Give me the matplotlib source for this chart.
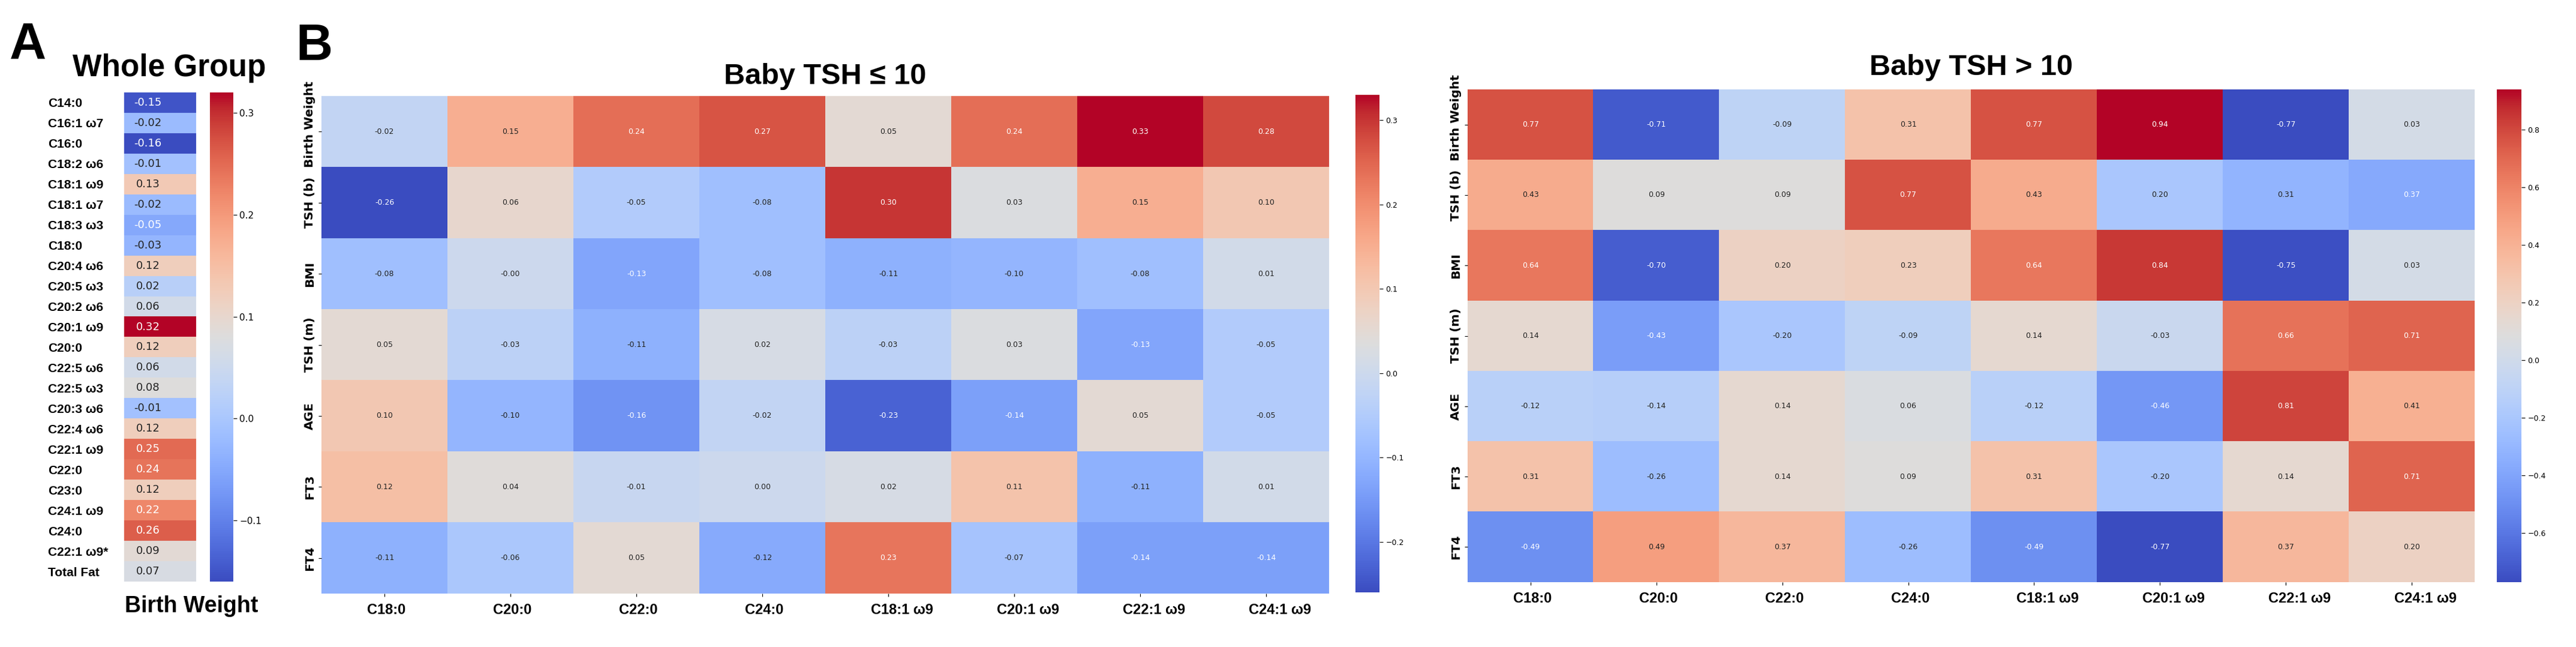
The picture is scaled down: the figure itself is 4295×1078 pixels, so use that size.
import numpy as np
import matplotlib
matplotlib.use("Agg")
import matplotlib.pyplot as plt
from matplotlib import colors
from matplotlib.ticker import MultipleLocator
from matplotlib.transforms import ScaledTranslation

# ---- data ----
whole_rows = ["C14:0", "C16:1 ω7", "C16:0", "C18:2 ω6", "C18:1 ω9", "C18:1 ω7",
              "C18:3 ω3", "C18:0", "C20:4 ω6", "C20:5 ω3", "C20:2 ω6", "C20:1 ω9",
              "C20:0", "C22:5 ω6", "C22:5 ω3", "C20:3 ω6", "C22:4 ω6", "C22:1 ω9",
              "C22:0", "C23:0", "C24:1 ω9", "C24:0", "C22:1 ω9*", "Total Fat"]
whole_bw = [-0.15, -0.02, -0.16, -0.01, 0.13, -0.02, -0.05, -0.03, 0.12, 0.02,
            0.06, 0.32, 0.12, 0.06, 0.08, -0.01, 0.12, 0.25, 0.24, 0.12, 0.22,
            0.26, 0.09, 0.07]

b_rows = ["Birth Weight", "TSH (b)", "BMI", "TSH (m)", "AGE", "FT3", "FT4"]
b_cols = ["C18:0", "C20:0", "C22:0", "C24:0",
          "C18:1 ω9", "C20:1 ω9", "C22:1 ω9", "C24:1 ω9"]

low_vals = [
    [-0.02, 0.15, 0.24, 0.27, 0.05, 0.24, 0.33, 0.28],
    [-0.26, 0.06, -0.05, -0.08, 0.30, 0.03, 0.15, 0.10],
    [-0.08, -0.0, -0.13, -0.08, -0.11, -0.10, -0.08, 0.01],
    [0.05, -0.03, -0.11, 0.02, -0.03, 0.03, -0.13, -0.05],
    [0.10, -0.10, -0.16, -0.02, -0.23, -0.14, 0.05, -0.05],
    [0.12, 0.04, -0.01, 0.00, 0.02, 0.11, -0.11, 0.01],
    [-0.11, -0.06, 0.05, -0.12, 0.23, -0.07, -0.14, -0.14],
]

high_vals = [
    [0.77, -0.71, -0.09, 0.31, 0.77, 0.94, -0.77, 0.03],
    [0.43, 0.09, 0.09, 0.77, 0.43, -0.20, -0.31, -0.37],
    [0.64, -0.70, 0.20, 0.23, 0.64, 0.84, -0.75, 0.03],
    [0.14, -0.43, -0.20, -0.09, 0.14, -0.03, 0.66, 0.71],
    [-0.12, -0.14, 0.14, 0.06, -0.12, -0.46, 0.81, 0.41],
    [0.31, -0.26, 0.14, 0.09, 0.31, -0.20, 0.14, 0.71],
    [-0.49, 0.49, 0.37, -0.26, -0.49, -0.77, 0.37, 0.20],
]
# the printed numbers in the TSH (b) row lost their minus sign in the figure
high_tsh_b_printed = [0.43, 0.09, 0.09, 0.77, 0.43, 0.20, 0.31, 0.37]

# ---- figure ----
W, H = 4295, 1078
fig = plt.figure(figsize=(W / 100, H / 100), dpi=100)


def box(x0, y0, x1, y1):
    return [x0 / W, 1 - y1 / H, (x1 - x0) / W, (y1 - y0) / H]


def ftext(x, y, s, **kw):
    fig.text(x / W, 1 - y / H, s, **kw)


def text_color(rgba):
    lin = [c / 12.92 if c <= 0.03928 else ((c + 0.055) / 1.055) ** 2.4 for c in rgba[:3]]
    lum = 0.2126 * lin[0] + 0.7152 * lin[1] + 0.0722 * lin[2]
    return "#222222" if lum > 0.408 else "white"


def heat(ax, cax, vals, labels, step, fsize, cb_fsize, xoff=0.0):
    vals = np.array(vals, dtype=float)
    vmin, vmax = vals.min(), vals.max()
    im = ax.imshow(vals, cmap="coolwarm", vmin=vmin, vmax=vmax,
                   aspect="auto", interpolation="nearest")
    cmap = plt.get_cmap("coolwarm")
    norm = colors.Normalize(vmin, vmax)
    for i in range(vals.shape[0]):
        for j in range(vals.shape[1]):
            ax.text(j + xoff, i, labels[i][j], ha="center", va="center",
                    fontsize=fsize, color=text_color(cmap(norm(vals[i, j]))))
    for s in ax.spines.values():
        s.set_visible(False)
    cb = fig.colorbar(im, cax=cax)
    cb.outline.set_visible(False)
    cb.locator = MultipleLocator(step)
    cb.update_ticks()
    cb.ax.tick_params(labelsize=cb_fsize, length=4, width=0.8)
    return cb


# panel A: whole group
axA = fig.add_axes(box(207, 154, 327, 969))
caxA = fig.add_axes(box(350, 154, 389, 969))
labA = [[f"{v:.2f}"] for v in whole_bw]
heat(axA, caxA, [[v] for v in whole_bw], labA, 0.1, 13, 11, xoff=-0.17)
axA.set_xticks([])
axA.set_yticks(range(len(whole_rows)))
axA.set_yticklabels(whole_rows, ha="left", fontsize=15, fontweight="bold",
                    family="Liberation Sans")
axA.tick_params(axis="y", length=0, pad=(207 - 80) * 72 / 100)

ftext(16, 98, "A", fontsize=61, fontweight="bold", family="Liberation Sans")
ftext(282, 127, "Whole Group", ha="center", fontsize=37, fontweight="bold",
      family="Liberation Sans")
ftext(319, 1020, "Birth Weight", ha="center", fontsize=27, fontweight="bold",
      family="Liberation Sans")

# panel B: split by baby TSH
ftext(493, 100, "B", fontsize=61, fontweight="bold", family="Liberation Sans")

panels = [
    (box(536, 160, 2216, 989), box(2260, 158, 2300, 987), low_vals, None, 0.1,
     "Baby TSH ≤ 10", 140),
    (box(2447, 149, 4126, 970), box(4163, 149, 4204, 970), high_vals,
     high_tsh_b_printed, 0.2, "Baby TSH > 10", 125),
]

for rect, crect, vals, printed_row, step, title, title_y in panels:
    ax = fig.add_axes(rect)
    cax = fig.add_axes(crect)
    labels = [[f"{v:.2f}" for v in row] for row in vals]
    if printed_row is not None:
        labels[1] = [f"{v:.2f}" for v in printed_row]
    heat(ax, cax, vals, labels, step, 9, 9)
    ax.set_yticks(range(len(b_rows)))
    ax.set_yticklabels(b_rows, rotation=90, va="center", fontsize=14.5,
                       fontweight="bold", family="DejaVu Sans")
    # first row label sits a little higher than its tick in the original
    first = ax.get_yticklabels()[0]
    first.set_transform(first.get_transform()
                        + ScaledTranslation(0, 0.12, fig.dpi_scale_trans))
    ax.set_xticks(range(len(b_cols)))
    ax.set_xticklabels(b_cols, fontsize=17, fontweight="bold",
                       family="Liberation Sans")
    ax.tick_params(axis="x", pad=8)
    shift = ScaledTranslation(-0.29, 0, fig.dpi_scale_trans)
    for lbl in ax.get_xticklabels():
        lbl.set_horizontalalignment("left")
        lbl.set_transform(lbl.get_transform() + shift)
    pos = ax.get_position()
    fig.text(pos.x0 + pos.width / 2, 1 - title_y / H, title, ha="center",
             fontsize=35, fontweight="bold", family="Liberation Sans")

fig.savefig("out.png", dpi=100)
